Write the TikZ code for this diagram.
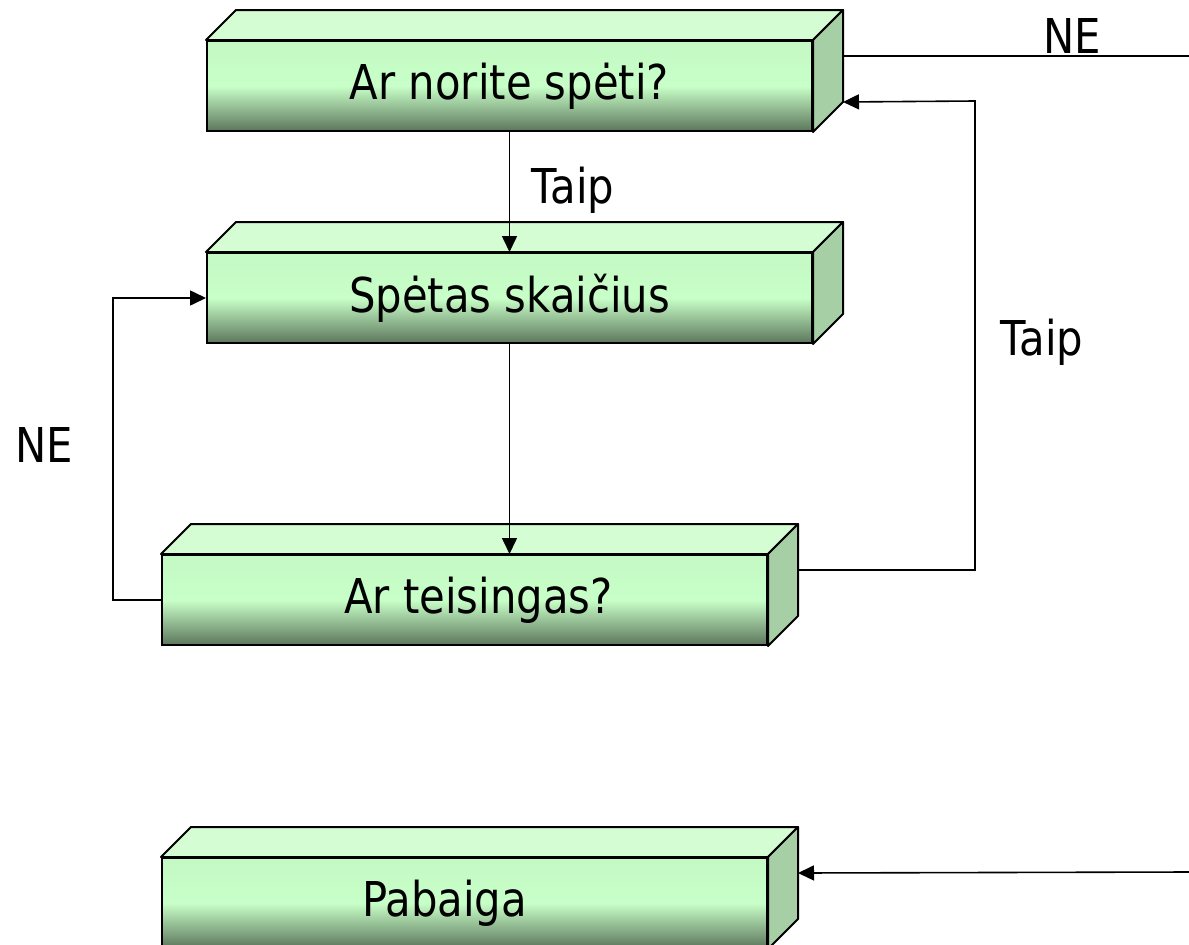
\documentclass[tikz,border=0pt]{standalone}
\usepackage{fontspec}
\setmainfont{DejaVu Sans}[FakeStretch=0.87]
\usetikzlibrary{arrows.meta}
\definecolor{fronttop}{RGB}{196,248,196}
\definecolor{frontmid}{RGB}{200,255,200}
\definecolor{frontbot}{RGB}{92,118,92}
\definecolor{topface}{RGB}{212,253,212}
\definecolor{sideface}{RGB}{166,207,166}
\tikzset{
  x=1pt, y=-1pt,
  boxfront/.style={draw=black, line width=2pt, minimum width=605pt, minimum height=90pt,
    inner sep=0pt, top color=fronttop, bottom color=frontbot, middle color=frontmid,
    font=\fontsize{48}{50}\selectfont},
  boxtop/.style={draw=black, line width=2pt, line join=round, fill=topface},
  boxside/.style={draw=black, line width=2pt, line join=round, fill=sideface},
  conn/.style={draw=black, line width=1.6pt},
  arr/.style={conn, -{Triangle[length=16pt,width=15pt]}},
  lbl/.style={font=\fontsize{48}{50}\selectfont, anchor=base, inner sep=0pt}
}
\begin{document}
\begin{tikzpicture}
\useasboundingbox (0,0) rectangle (1189,945);
\clip (0,0) rectangle (1189,945);
\node[boxfront] (b1) at (509.5,86) {Ar norite spėti?};
\node[boxfront] (b2) at (509.5,298) {Spėtas skaičius};
\node[boxfront] (b3) at (464.5,600) {\hspace*{28pt}Ar teisingas?};
\node[boxfront] (b4) at (464.5,903) {Pabaiga\hspace*{40pt}};
\foreach \n in {b1,b2,b3,b4}{
  \path[boxtop] (\n.north west) -- ++(30,-30) -- ([shift={(30,-30)}]\n.north east) -- (\n.north east) -- cycle;
  \path[boxside] (\n.north east) -- ([shift={(30,-30)}]\n.north east) -- ([shift={(30,-30)}]\n.south east) -- (\n.south east) -- cycle;
}
\coordinate (outNE) at (1189,56);
\coordinate (inEnd) at (1189,872);
\coordinate (b1back) at ([shift={(30,-30)}]b1.east);
\coordinate (b1backlow) at ([shift={(30,-30)}]b1.south east);
\coordinate (b3back) at ([shift={(30,-30)}]b3.east);
\coordinate (b4back) at ([shift={(30,-30)}]b4.east);
% connectors
\draw[conn] (b1back) -- (outNE);
\draw[arr] (b1.south) -- (b2.north);
\draw[arr] (b2.south) -- (b3.north -| b2.south);
\draw[arr] (b3back) -- (975,570) -- (975,101) -- (b1backlow);
\draw[arr] (b3.west) -- (113,600) -- (113,298) -- (b2.west);
\draw[arr] (inEnd) -- (b4back);
% labels
\node[lbl] (t1) at (573,203) {Taip};
\node[lbl] (t2) at (1042,355) {Taip};
\node[lbl] (n1) at (1072,53) {NE};
\node[lbl] (n2) at (44.5,462) {NE};
\end{tikzpicture}
\end{document}
